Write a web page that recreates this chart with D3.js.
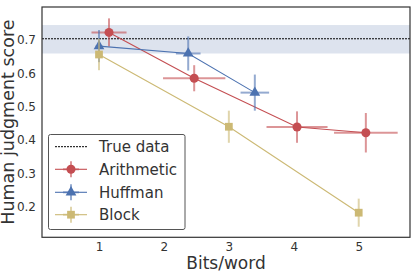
<!DOCTYPE html>
<html><head><meta charset="utf-8">
<script src="https://cdn.jsdelivr.net/npm/d3@7"></script>
<style>body{margin:0;background:#fff;}svg{display:block;font-family:"DejaVu Sans",sans-serif;}</style>
</head><body><svg id="c" width="417" height="272"></svg>
<script>
const xTicks = [1, 2, 3, 4, 5];
const yTicks = [0.2, 0.3, 0.4, 0.5, 0.6, 0.7];
const trueValue = 0.703;
const trueBand = [0.659, 0.744];
const arithX = [1.154, 2.466, 4.05, 5.11];
const arithY = [0.722, 0.585, 0.439, 0.422];
const arithXErr = [0.27, 0.48, 0.47, 0.49];
const arithYErr = [0.042, 0.039, 0.047, 0.059];
const huffX = [1.0, 2.374, 3.4];
const huffY = [0.681, 0.659, 0.542];
const huffXErr = [0.05, 0.19, 0.22];
const huffYErr = [0.048, 0.051, 0.054];
const blockX = [1, 3, 5];
const blockY = [0.656, 0.44, 0.183];
const blockXErr = [0, 0, 0];
const blockYErr = [0.047, 0.048, 0.042];
const seriesNames = ["Arithmetic", "Huffman", "Block"];
const colors = ["#c44e52", "#4c72b0", "#ccb974"];

const L = 42, R = 410, T = 7, B = 237.3;
const svg = d3.select("#c");
const x = d3.scaleLinear().domain([0.122, 5.79]).range([L, R]);
const y = d3.scaleLinear().domain([0.1094, 0.798]).range([B, T]);
const txt = "#333";

// band
svg.append("rect").attr("x", L).attr("width", R - L)
  .attr("y", y(trueBand[1])).attr("height", y(trueBand[0]) - y(trueBand[1]))
  .attr("fill", "#dde3ee");
svg.append("line").attr("x1", L).attr("x2", R).attr("y1", y(trueValue)).attr("y2", y(trueValue))
  .attr("stroke", "#000").attr("stroke-width", 1).attr("stroke-dasharray", "2,1");

// axes
const xAxis = d3.axisBottom(x).tickValues(xTicks).tickFormat(d3.format("d")).tickSize(0).tickPadding(5);
const gx = svg.append("g").attr("transform", `translate(0,${B})`).call(xAxis);
gx.select(".domain").remove();
gx.selectAll("text").attr("font-size", 12).attr("fill", txt).attr("font-family", "DejaVu Sans");
const yAxis = d3.axisLeft(y).tickValues(yTicks).tickFormat(d3.format(".1f")).tickSize(0).tickPadding(6);
const gy = svg.append("g").attr("transform", `translate(${L},0)`).call(yAxis);
gy.select(".domain").remove();
gy.selectAll("text").attr("font-size", 12).attr("fill", txt).attr("font-family", "DejaVu Sans");

const series = [
  {xs: arithX, ys: arithY, xe: arithXErr, ye: arithYErr, m: "circle"},
  {xs: huffX, ys: huffY, xe: huffXErr, ye: huffYErr, m: "triangle"},
  {xs: blockX, ys: blockY, xe: blockXErr, ye: blockYErr, m: "square"}
];
const sym = {circle: d3.symbol().type(d3.symbolCircle).size(64),
             triangle: d3.symbol().type(d3.symbolTriangle).size(50),
             square: d3.symbol().type(d3.symbolSquare).size(60)};

series.forEach((s, i) => {
  const g = svg.append("g");
  const pts = s.xs.map((v, j) => ({x: v, y: s.ys[j], xe: s.xe[j], ye: s.ye[j]}));
  g.append("path").datum(pts)
    .attr("d", d3.line().x(d => x(d.x)).y(d => y(d.y)))
    .attr("fill", "none").attr("stroke", colors[i]).attr("stroke-width", 1.1);
  pts.forEach(p => {
    g.append("line").attr("x1", x(p.x)).attr("x2", x(p.x)).attr("y1", y(p.y - p.ye)).attr("y2", y(p.y + p.ye))
      .attr("stroke", colors[i]).attr("stroke-width", 2).attr("stroke-opacity", 0.6);
    if (p.xe > 0) g.append("line").attr("x1", x(p.x - p.xe)).attr("x2", x(p.x + p.xe)).attr("y1", y(p.y)).attr("y2", y(p.y))
      .attr("stroke", colors[i]).attr("stroke-width", 2).attr("stroke-opacity", 0.6);
    g.append("path").attr("d", sym[s.m]()).attr("transform", `translate(${x(p.x)},${y(p.y)})`)
      .attr("fill", colors[i]);
  });
});

// frame
svg.append("rect").attr("x", L).attr("y", T).attr("width", R - L).attr("height", B - T)
  .attr("fill", "none").attr("stroke", "#333").attr("stroke-width", 1.2);

// labels
svg.append("text").attr("x", (L + R) / 2).attr("y", 269).attr("text-anchor", "middle")
  .attr("font-size", 17).attr("fill", txt).text("Bits/word");
svg.append("text").attr("transform", `translate(13.5,${(T + B) / 2}) rotate(-90)`).attr("text-anchor", "middle")
  .attr("font-size", 17.5).attr("fill", txt).text("Human judgment score");

// legend
const lg = svg.append("g");
lg.append("rect").attr("x", 48.5).attr("y", 134.5).attr("width", 136.5).attr("height", 95).attr("rx", 2)
  .attr("fill", "#fff").attr("stroke", "#555").attr("stroke-width", 1);
const rowsY = [146.7, 169.3, 192.3, 214.7];
const labels = ["True data"].concat(seriesNames);
labels.forEach((lab, k) => {
  const yy = rowsY[k];
  if (k === 0) {
    lg.append("line").attr("x1", 55).attr("x2", 87).attr("y1", yy).attr("y2", yy)
      .attr("stroke", "#000").attr("stroke-width", 1).attr("stroke-dasharray", "2,1");
  } else {
    const c = colors[k - 1];
    lg.append("line").attr("x1", 55).attr("x2", 87).attr("y1", yy).attr("y2", yy)
      .attr("stroke", c).attr("stroke-width", 1.1);
    lg.append("line").attr("x1", 71).attr("x2", 71).attr("y1", yy - 8).attr("y2", yy + 8)
      .attr("stroke", c).attr("stroke-width", 2).attr("stroke-opacity", 0.6);
    lg.append("line").attr("x1", 63).attr("x2", 79).attr("y1", yy).attr("y2", yy)
      .attr("stroke", c).attr("stroke-width", 2).attr("stroke-opacity", 0.6);
    lg.append("path").attr("d", sym[series[k - 1].m]()).attr("transform", `translate(71,${yy})`).attr("fill", c);
  }
  lg.append("text").attr("x", 99).attr("y", yy + 5.5).attr("font-size", 15).attr("fill", txt).text(lab);
});
</script></body></html>
